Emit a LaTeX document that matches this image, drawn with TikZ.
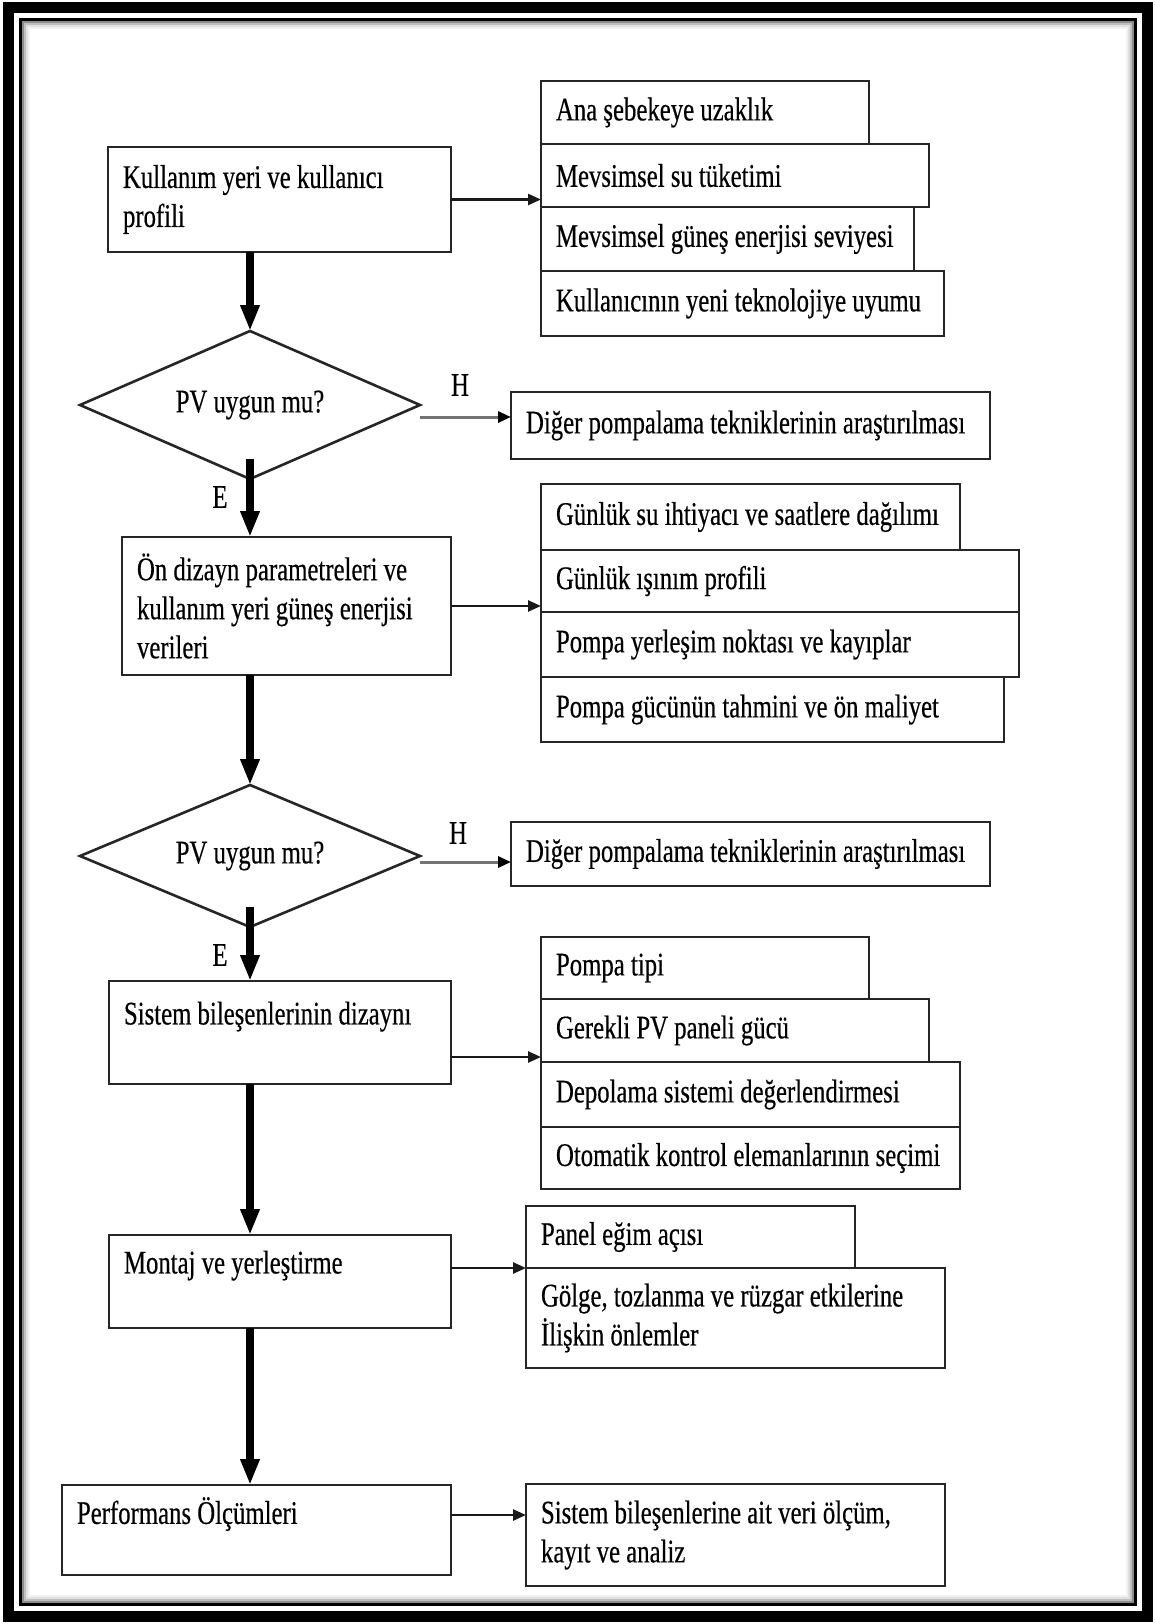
\documentclass[tikz,border=0pt]{standalone}
\usepackage{fontspec}
\setmainfont{Liberation Serif}[FakeStretch=0.75, FakeBold=0.4]
\usetikzlibrary{shapes.geometric,arrows.meta}
\begin{document}
\hyphenpenalty=10000
\exhyphenpenalty=10000
\begin{tikzpicture}[x=1pt,y=-1pt,
  txt/.style={font=\fontsize{33}{39}\selectfont, text=black},
  box/.style={txt, draw=black!85, line width=2.6pt, fill=white, anchor=north west,
    align=flush left, inner xsep=15pt, inner ysep=0pt, outer sep=0pt},
  dec/.style={txt, draw=black!85, line width=2.6pt, fill=white, shape=diamond,
    shape aspect=2.3, inner sep=0pt, outer sep=0pt, minimum width=340pt},
  lbl/.style={txt, inner sep=0pt},
  thickarr/.style={line width=8pt, -{Triangle[length=26pt,width=18pt]}},
  thinarr/.style={line width=2.5pt, black!90, -{Triangle[length=13pt,width=11pt]}},
  harr/.style={line width=3pt, black!55, -{Triangle[length=13pt,width=11pt,color=black]}},
  frameband/.style={line width=11pt, black},
  frameline/.style={line width=3pt, black}
]
\useasboundingbox (0,0) rectangle (1155,1624);
\fill[white] (0,0) rectangle (1155,1624);
% frame
\draw[frameband] (8,8) rectangle (1147,1616);
\draw[frameline] (20,20) rectangle (1135,1604);
\draw[black!45, line width=2pt] (22.5,22.5) rectangle (1132.5,1601.5);
\draw[black!25, line width=2pt] (24.5,24.5) rectangle (1130.5,1599.5);
\draw[black!12, line width=2pt] (26.5,26.5) rectangle (1128.5,1597.5);
\draw[black!5, line width=2pt] (28.5,28.5) rectangle (1126.5,1595.5);

% row 1
\node[box, text width=313pt, minimum height=105pt] (box1) at (108,147) {Kullanım yeri ve kullanıcı\\profili};
\node[box, text width=298pt, minimum height=63pt] (g1a) at (541,81) {Ana şebekeye uzaklık};
\node[box, text width=358pt, minimum height=63pt] (g1b) at (541,144) {Mevsimsel su tüketimi};
\node[box, text width=343pt, minimum height=64pt] (g1c) at (541,207) {Mevsimsel güneş enerjisi seviyesi};
\node[box, text width=373pt, minimum height=65pt] (g1d) at (541,271) {Kullanıcının yeni teknolojiye uyumu};

% decision 1
\node[dec, minimum height=148pt] (d1) at (250,405) {PV uygun mu?};
\node[box, text width=449pt, minimum height=67pt] (o1) at (511,392) {Diğer pompalama tekniklerinin araştırılması};
\node[lbl] (h1) at (460,385) {H};
\node[lbl] (e1) at (220,497) {E};

% row 2
\node[box, text width=299pt, minimum height=138pt] (box2) at (122,537) {Ön dizayn parametreleri ve\\kullanım yeri güneş enerjisi\\verileri};
\node[box, text width=389pt, minimum height=66pt] (g2a) at (541,484) {Günlük su ihtiyacı ve saatlere dağılımı};
\node[box, text width=448pt, minimum height=62pt] (g2b) at (541,550) {Günlük ışınım profili};
\node[box, text width=448pt, minimum height=65pt] (g2c) at (541,612) {Pompa yerleşim noktası ve kayıplar};
\node[box, text width=433pt, minimum height=65pt] (g2d) at (541,677) {Pompa gücünün tahmini ve ön maliyet};

% decision 2
\node[dec, minimum height=142pt] (d2) at (250,856) {PV uygun mu?};
\node[box, text width=449pt, minimum height=64pt] (o2) at (511,822) {Diğer pompalama tekniklerinin araştırılması};
\node[lbl] (h2) at (458,833) {H};
\node[lbl] (e2) at (220,955) {E};

% row 3
\node[box, text width=312pt, minimum height=103pt] (box3) at (109,981) {Sistem bileşenlerinin dizaynı\\\mbox{}};
\node[box, text width=298pt, minimum height=62pt] (g3a) at (541,937) {Pompa tipi};
\node[box, text width=358pt, minimum height=63pt] (g3b) at (541,999) {Gerekli PV paneli gücü};
\node[box, text width=389pt, minimum height=65pt] (g3c) at (541,1062) {Depolama sistemi değerlendirmesi};
\node[box, text width=389pt, minimum height=62pt] (g3d) at (541,1127) {Otomatik kontrol elemanlarının seçimi};

% row 4
\node[box, text width=312pt, minimum height=93pt] (box4) at (109,1235) {Montaj ve yerleştirme\\\mbox{}};
\node[box, text width=299pt, minimum height=62pt] (g4a) at (526,1206) {Panel eğim açısı};
\node[box, text width=389pt, minimum height=100pt] (g4b) at (526,1268) {Gölge, tozlanma ve rüzgar etkilerine\\İlişkin önlemler};

% row 5
\node[box, text width=359pt, minimum height=90pt] (box5) at (62,1485) {Performans Ölçümleri\\\mbox{}};
\node[box, text width=389pt, minimum height=102pt] (box6) at (526,1484) {Sistem bileşenlerine ait veri ölçüm,\\kayıt ve analiz};

% main flow
\draw[thickarr] (box1.south -| d1.north) -- (d1.north);
\draw[thickarr] ([yshift=20pt]d1.south) -- (d1.south |- box2.north);
\draw[thickarr] (box2.south -| d2.north) -- (d2.north);
\draw[thickarr] ([yshift=20pt]d2.south) -- (d2.south |- box3.north);
\draw[thickarr] (box3.south -| d2.south) -- (d2.south |- box4.north);
\draw[thickarr] (box4.south -| d2.south) -- (d2.south |- box5.north);

% side arrows
\draw[thinarr] (box1.east) -- (box1.east -| g1b.west);
\draw[thinarr] (box2.east) -- (box2.east -| g2b.west);
\draw[thinarr] ([yshift=-24.5pt]box3.east) -- ([yshift=-24.5pt]box3.east -| g3b.west);
\draw[thinarr] ([yshift=13.5pt]box4.east) -- ([yshift=13.5pt]box4.east -| g4a.west);
\draw[thinarr] ([yshift=15pt]box5.east) -- ([yshift=15pt]box5.east -| box6.west);
\draw[harr] ([yshift=-12pt]d1.east) -- ([yshift=-12pt]d1.east -| o1.west);
\draw[harr] ([yshift=-6pt]d2.east) -- ([yshift=-6pt]d2.east -| o2.west);
\end{tikzpicture}
\end{document}
